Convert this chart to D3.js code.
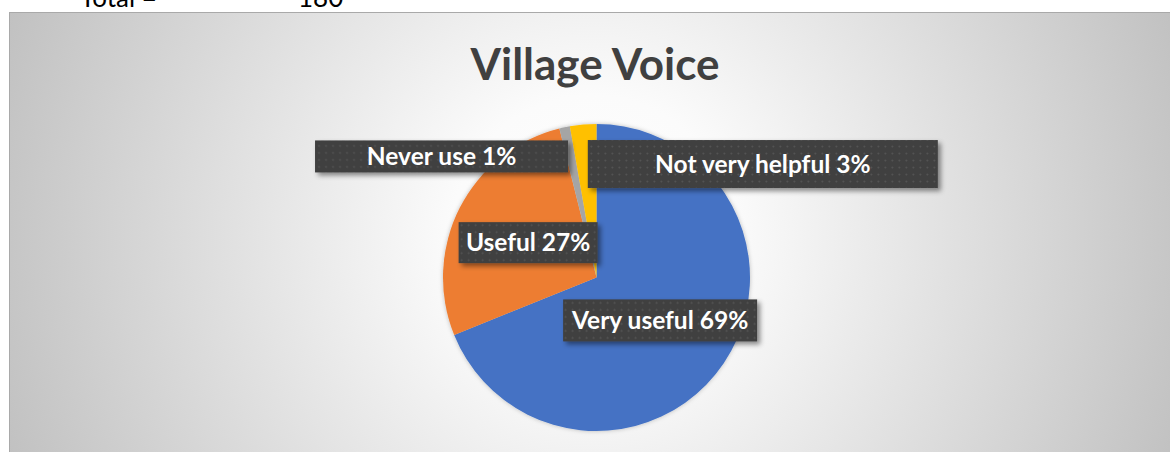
<!DOCTYPE html>
<html>
<head>
<meta charset="utf-8">
<script src="https://cdn.jsdelivr.net/npm/d3@7"></script>
<style>
  html, body { margin: 0; padding: 0; background: #ffffff; }
  svg { display: block; }
</style>
</head>
<body>
<svg id="chart" width="1170" height="452"></svg>
<script>
// Survey responses (n = 180)
const categories = ["Very useful", "Useful", "Never use", "Not very helpful"];
const counts = [124, 49, 2, 5];
const colors = ["#4472C4", "#ED7D31", "#A5A5A5", "#FFC000"];
const totalLabel = "Total =";
const titleText = "Village Voice";

// Label box layout: offset from the slice centroid, and box size
const labelDx = [0, 0, -139, 173];
const labelDy = [0, 0, -46, -37];
const boxW = [194, 139, 253, 350];
const boxH = [42, 41, 32, 48];

const W = 1170, H = 452;
const svg = d3.select("#chart");
const defs = svg.append("defs");

const bg = defs.append("radialGradient")
  .attr("id", "bg").attr("gradientUnits", "userSpaceOnUse")
  .attr("cx", 592).attr("cy", 236).attr("r", 640);
bg.append("stop").attr("offset", "0%").attr("stop-color", "#ffffff");
bg.append("stop").attr("offset", "22%").attr("stop-color", "#fbfbfb");
bg.append("stop").attr("offset", "100%").attr("stop-color", "#bfbfbf");

const pat = defs.append("pattern")
  .attr("id", "dots").attr("patternUnits", "userSpaceOnUse")
  .attr("width", 7).attr("height", 7);
pat.append("rect").attr("width", 7).attr("height", 7).attr("fill", "#3f3f3f");
pat.append("circle").attr("cx", 3.5).attr("cy", 3.5).attr("r", 1).attr("fill", "#565656");

const sh = defs.append("filter").attr("id", "shadow")
  .attr("x", "-20%").attr("y", "-40%").attr("width", "150%").attr("height", "200%");
sh.append("feDropShadow").attr("dx", 3).attr("dy", 3).attr("stdDeviation", 2.5)
  .attr("flood-color", "#000").attr("flood-opacity", 0.45);

const pieSh = defs.append("filter").attr("id", "pieShadow")
  .attr("x", "-10%").attr("y", "-10%").attr("width", "120%").attr("height", "120%");
pieSh.append("feDropShadow").attr("dx", 0).attr("dy", 0).attr("stdDeviation", 2)
  .attr("flood-color", "#000").attr("flood-opacity", 0.25);

// Text above the chart frame
svg.append("text").attr("x", 80).attr("y", 6.5)
  .attr("font-family", "Lato, 'Open Sans', sans-serif").attr("font-size", 26)
  .attr("fill", "#000").text(totalLabel);
svg.append("text").attr("x", 298).attr("y", 6.5)
  .attr("font-family", "Lato, 'Open Sans', sans-serif").attr("font-size", 26)
  .attr("fill", "#000").text(d3.sum(counts));

// Chart frame
svg.append("rect").attr("x", 9.5).attr("y", 12.5)
  .attr("width", W).attr("height", H)
  .attr("fill", "url(#bg)").attr("stroke", "#a9a9a9").attr("stroke-width", 1);

// Title
svg.append("text").attr("x", 595).attr("y", 80)
  .attr("text-anchor", "middle")
  .attr("font-family", "Lato, 'Open Sans', sans-serif")
  .attr("font-weight", 700).attr("font-size", 44)
  .attr("fill", "#404040").text(titleText);

// Pie
const cx = 596.5, cy = 277.5, r = 153.5;
const total = d3.sum(counts);
const data = categories.map((c, i) => ({ cat: c, value: counts[i], i }));
const pie = d3.pie().value(d => d.value).sort(null);
const arcs = pie(data);
const arc = d3.arc().innerRadius(0).outerRadius(r);
const labelArc = d3.arc().innerRadius(r * 0.5).outerRadius(r * 0.5);

const g = svg.append("g").attr("transform", `translate(${cx},${cy})`);
g.append("g").attr("filter", "url(#pieShadow)")
  .selectAll("path").data(arcs).join("path")
  .attr("d", arc)
  .attr("fill", d => colors[d.data.i]);

// Data labels
const lbl = g.selectAll("g.lbl").data(arcs).join("g").attr("class", "lbl")
  .attr("transform", d => {
    const [x, y] = labelArc.centroid(d);
    return `translate(${x + labelDx[d.data.i]},${y + labelDy[d.data.i]})`;
  });
lbl.append("rect")
  .attr("x", d => -boxW[d.data.i] / 2).attr("y", d => -boxH[d.data.i] / 2)
  .attr("width", d => boxW[d.data.i]).attr("height", d => boxH[d.data.i])
  .attr("fill", "url(#dots)").attr("filter", "url(#shadow)");
lbl.append("text")
  .attr("text-anchor", "middle").attr("dy", "0.36em")
  .attr("font-family", "Lato, 'Open Sans', sans-serif")
  .attr("font-weight", 700).attr("font-size", 24.5)
  .attr("fill", "#ffffff")
  .text(d => `${d.data.cat} ${Math.round(d.data.value / total * 100)}%`);
</script>
</body>
</html>
